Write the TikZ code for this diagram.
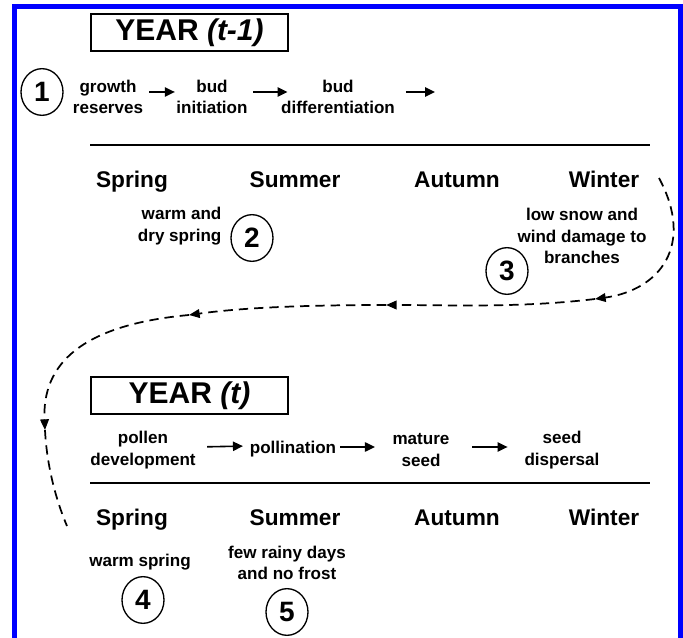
\documentclass[tikz,border=0pt]{standalone}
\usepackage{fontspec}
\setmainfont{Liberation Sans}
\usetikzlibrary{positioning,arrows.meta,shapes.geometric}

\begin{document}
\begin{tikzpicture}[x=0.75pt,y=-0.75pt,
	lbl/.style={font=\bfseries\fontsize{12.8}{16}\selectfont,align=center,inner sep=1pt},
	season/.style={anchor=base,font=\bfseries\fontsize{17}{20}\selectfont},
	num/.style={draw,ellipse,line width=1pt,minimum width=31.5pt,minimum height=35pt,inner sep=0pt,font=\bfseries\fontsize{21}{21}\selectfont},
	yearbox/.style={draw,line width=1.1pt,minimum width=147.75pt,minimum height=27.75pt,font=\bfseries\fontsize{22.5}{22.5}\selectfont},
	flow/.style={-{Triangle[length=7.5pt,width=7pt]},line width=1.2pt},
	loopback/.style={-{Triangle[length=8pt,width=6.5pt]},line width=1.3pt,dash pattern=on 7pt off 4.5pt}]
		\useasboundingbox (0,0) rectangle (683,638);
		\draw[blue,line width=3.75pt] (14.5,650) -- (14.5,7) -- (680.5,7) -- (680.5,650);

		% year t-1
		\node[yearbox] (yr1) at (189.5,32.5) {YEAR \textit{(t-1)}};
		\node[num] (n1) at (42,92) {1};
		\node[lbl] (grow) at (108,97) {growth\\reserves};
		\node[lbl] (init) at (212,97) {bud\\initiation};
		\node[lbl] (diff) at (338,97) {bud\\differentiation};
		\coordinate (next) at (435,92);
		\draw[flow,shorten <=3.5pt] ([yshift=3.75pt]grow.east) -- ([yshift=3.75pt]init.west);
		\draw[flow,shorten <=3pt,shorten >=-6pt] ([yshift=3.75pt]init.east) -- ([yshift=3.75pt]diff.west);
		\draw[flow,shorten <=7pt] ([yshift=3.75pt]diff.east) -- (next);
		\draw[line width=2.2pt] (90,145) -- (650,145);
		\foreach \s/\x in {Spring/132,Summer/295,Autumn/457,Winter/604}
			\node[season] (\s1) at (\x,187.5) {\s};
		\node[num] (n2) at (252,238) {2};
		\node[lbl,align=right,anchor=east] (warmdry) at (223,226) {warm and\\dry spring};
		\node[num] (n3) at (507,271) {3};
		\node[lbl] (snow) at (582,236) {low snow and\\wind damage to\\branches};

		% dashed path into the next year
		\coordinate (w0) at (659,178);
		\coordinate (w1) at (595,299);
		\coordinate (w2) at (386,305);
		\coordinate (w3) at (189,315);
		\coordinate (w4) at (45,430);
		\coordinate (w5) at (67,526);
		\draw[loopback] (w0) .. controls (695,245) and (660,290) .. (w1);
		\draw[loopback] (w1) .. controls (520,308) and (450,305) .. (w2);
		\draw[loopback] (w2) .. controls (300,305) and (240,308) .. (w3);
		\draw[loopback] (w3) .. controls (80,325) and (42,365) .. (w4);
		\draw[loopback,-] (w4) .. controls (47,470) and (58,505) .. (w5);

		% year t
		\node[yearbox] (yr2) at (189.5,395.5) {YEAR \textit{(t)}};
		\node[lbl] (pollen) at (143,450) {pollen\\development};
		\node[lbl] (pollin) at (293,449) {pollination};
		\node[lbl] (mature) at (421,450) {mature\\seed};
		\node[lbl] (disp) at (562,450) {seed\\dispersal};
		\draw[flow,shorten <=7.5pt,shorten >=4pt] ([yshift=2.25pt]pollen.east) -- ([yshift=2.25pt]pollin.west);
		\draw[flow,shorten <=2pt,shorten >=12pt] ([yshift=1.5pt]pollin.east) -- ([yshift=2.25pt]mature.west);
		\draw[flow,shorten <=16pt,shorten >=11.5pt] ([yshift=2.25pt]mature.east) -- ([yshift=2.25pt]disp.west);
		\draw[line width=2.2pt] (90,483) -- (650,483);
		\foreach \s/\x in {Spring/132,Summer/295,Autumn/457,Winter/604}
			\node[season] (\s2) at (\x,525.5) {\s};
		\node[lbl] (warm) at (140,562) {warm spring};
		\node[num] (n4) at (143,600) {4};
		\node[lbl] (rainy) at (287,563) {few rainy days\\and no frost};
		\node[num] (n5) at (287,612) {5};
\end{tikzpicture}
\end{document}
